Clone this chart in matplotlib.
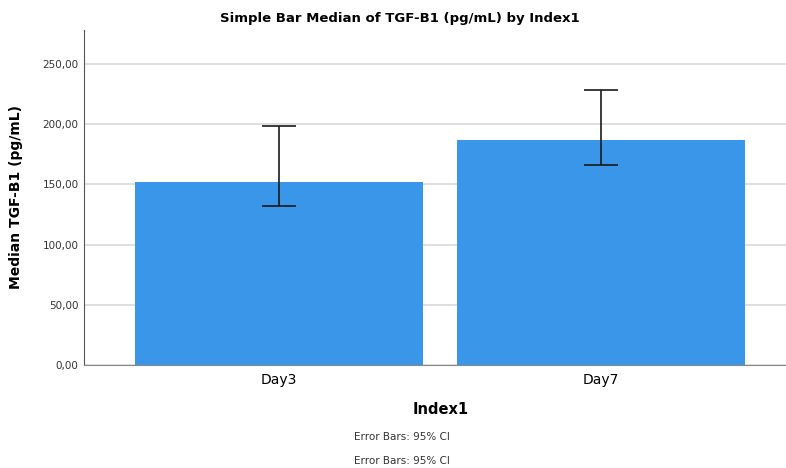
import matplotlib.pyplot as plt
from matplotlib.ticker import FuncFormatter

# data
categories = ['Day3', 'Day7']
medians = [152.0, 187.0]
ci_low = [132.0, 166.0]
ci_high = [198.5, 228.0]

bar_color = '#3a96e8'

fig = plt.figure(figsize=(7.86, 4.68), dpi=100)
ax = fig.add_axes([0.1069, 0.22, 0.8931, 0.716])

x = list(range(len(categories)))
err_lo = [m - l for m, l in zip(medians, ci_low)]
err_hi = [h - m for m, h in zip(medians, ci_high)]

ax.bar(x, medians, width=0.894, color=bar_color, zorder=2)
ax.errorbar(x, medians, yerr=[err_lo, err_hi], fmt='none', ecolor='#1a1a1a',
            elinewidth=1.2, capsize=12.5, capthick=1.2, zorder=3)

ax.set_xlim(-0.606, 1.575)
ax.set_ylim(0, 278)
ax.set_yticks([0, 50, 100, 150, 200, 250])
ax.yaxis.set_major_formatter(FuncFormatter(lambda v, p: f'{v:.2f}'.replace('.', ',')))
ax.set_xticks(x)
ax.set_xticklabels(categories, fontsize=10)
ax.tick_params(axis='y', labelsize=7.5, length=0, pad=4, colors='#333333')
ax.tick_params(axis='x', length=0, pad=6)

ax.grid(axis='y', color='#d9d9d9', linewidth=1.2, zorder=0)
ax.set_axisbelow(True)
for side in ['top', 'right']:
    ax.spines[side].set_visible(False)
ax.spines['left'].set_color('#555555')
ax.spines['bottom'].set_color('#888888')

ax.set_ylabel('Median TGF-B1 (pg/mL)', fontsize=10, fontweight='bold')
ax.yaxis.set_label_coords(-0.087, 0.5)
fig.text(0.509, 0.9615, 'Simple Bar Median of TGF-B1 (pg/mL) by Index1',
         ha='center', va='center', fontsize=9.5, fontweight='bold')
fig.text(0.561, 0.124, 'Index1', ha='center', va='center', fontsize=10.5, fontweight='bold')
fig.text(0.512, 0.066, 'Error Bars: 95% CI', ha='center', va='center', fontsize=7.5, color='#333333')
fig.text(0.512, 0.015, 'Error Bars: 95% CI', ha='center', va='center', fontsize=7.5, color='#333333')

fig.savefig('out.png', dpi=100)
